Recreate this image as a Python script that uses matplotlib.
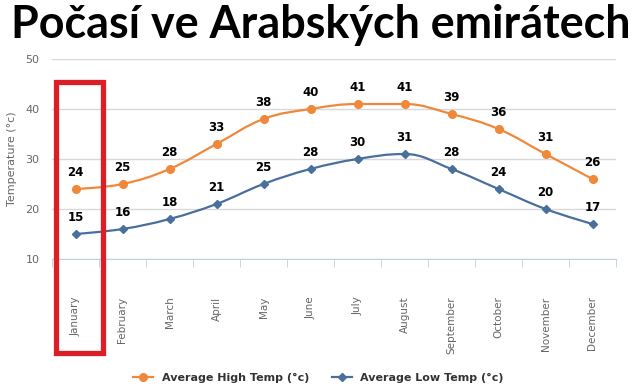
import matplotlib.pyplot as plt
from matplotlib.path import Path
from matplotlib.patches import PathPatch, Rectangle
from matplotlib.lines import Line2D

months = ['January', 'February', 'March', 'April', 'May', 'June', 'July',
          'August', 'September', 'October', 'November', 'December']
high = [24, 25, 28, 33, 38, 40, 41, 41, 39, 36, 31, 26]
low = [15, 16, 18, 21, 25, 28, 30, 31, 28, 24, 20, 17]

title = 'Počasí ve Arabských emirátech'
high_name = 'Average High Temp (°c)'
low_name = 'Average Low Temp (°c)'

c_high = '#f0883a'
c_low = '#4a6f9c'


def spline_path(xs, ys):
    # Highcharts-like spline through the points (cubic bezier)
    sm = 1.5
    den = sm + 1
    n = len(xs)
    left = [None] * n
    right = [None] * n
    for i in range(n):
        x, y = xs[i], ys[i]
        if i == 0 or i == n - 1:
            left[i] = (x, y)
            right[i] = (x, y)
            continue
        lx, ly = xs[i - 1], ys[i - 1]
        nx, ny = xs[i + 1], ys[i + 1]
        lcx = (sm * x + lx) / den
        lcy = (sm * y + ly) / den
        rcx = (sm * x + nx) / den
        rcy = (sm * y + ny) / den
        corr = (rcy - lcy) * (rcx - x) / (rcx - lcx) + y - rcy
        lcy += corr
        rcy += corr
        if lcy > ly and lcy > y:
            lcy = max(ly, y)
            rcy = 2 * y - lcy
        elif lcy < ly and lcy < y:
            lcy = min(ly, y)
            rcy = 2 * y - lcy
        if rcy > ny and rcy > y:
            rcy = max(ny, y)
            lcy = 2 * y - rcy
        elif rcy < ny and rcy < y:
            rcy = min(ny, y)
            lcy = 2 * y - rcy
        left[i] = (lcx, lcy)
        right[i] = (rcx, rcy)
    verts = [(xs[0], ys[0])]
    codes = [Path.MOVETO]
    for i in range(1, n):
        verts += [right[i - 1], left[i], (xs[i], ys[i])]
        codes += [Path.CURVE4] * 3
    return Path(verts, codes)


fig = plt.figure(figsize=(6.37, 3.88), dpi=100)
ax = fig.add_axes([52 / 637, 129 / 388, 564 / 637, 200 / 388])

x = list(range(len(months)))
for ys, col, mk, ms in [(high, c_high, 'o', 5.5), (low, c_low, 'D', 4)]:
    ax.add_patch(PathPatch(spline_path(x, ys), fill=False, edgecolor=col, lw=1.6, zorder=3))
    ax.plot(x, ys, ls='none', marker=mk, ms=ms, color=col, zorder=4)
    for xi, yi in zip(x, ys):
        ax.annotate(str(yi), (xi, yi), xytext=(0, 7), textcoords='offset points',
                    ha='center', va='bottom', fontsize=8.5, fontweight='bold', color='black')

ax.set_xlim(-0.5, 11.5)
ax.set_ylim(10, 50)
ax.set_yticks([10, 20, 30, 40, 50])
ax.yaxis.grid(True, color='#d8d8d8', lw=1)
ax.set_axisbelow(True)
for s in ['top', 'right', 'left']:
    ax.spines[s].set_visible(False)
ax.spines['bottom'].set_color('#c0d0e0')
ax.tick_params(axis='y', length=0, labelsize=8, labelcolor='#666666', pad=9)
ax.set_xticks(x)
ax.set_xticklabels(months, rotation=90, fontsize=7.5, color='#666666')
ax.tick_params(axis='x', length=0, pad=27)
ax.set_xticks([i + 0.5 for i in range(-1, 12)], minor=True)
ax.tick_params(axis='x', which='minor', length=6, color='#c0d0e0')
ax.set_ylabel('Temperature (°c)', fontsize=8, color='#666666', labelpad=6)

fig.text(0.503, 0.99, title, ha='center', va='top', fontsize=32.3,
         fontweight='bold', family='Lato', color='black')

# red highlight box around January
fig.add_artist(Rectangle((55.5 / 637, 1 - 353 / 388), 47 / 637, 271 / 388,
                         transform=fig.transFigure, fill=False,
                         edgecolor='#dc1f26', lw=3.8))

handles = [
    Line2D([], [], color=c_high, marker='o', ms=5.5, lw=1.6),
    Line2D([], [], color=c_low, marker='D', ms=4, lw=1.6),
]
fig.legend(handles, [high_name, low_name], loc='center', bbox_to_anchor=(0.5, 1 - 378 / 388),
           ncol=2, frameon=False, prop={'size': 8, 'weight': 'bold'},
           labelcolor='#333333', handlelength=1.8, columnspacing=2)

fig.savefig('out.png', dpi=100)
